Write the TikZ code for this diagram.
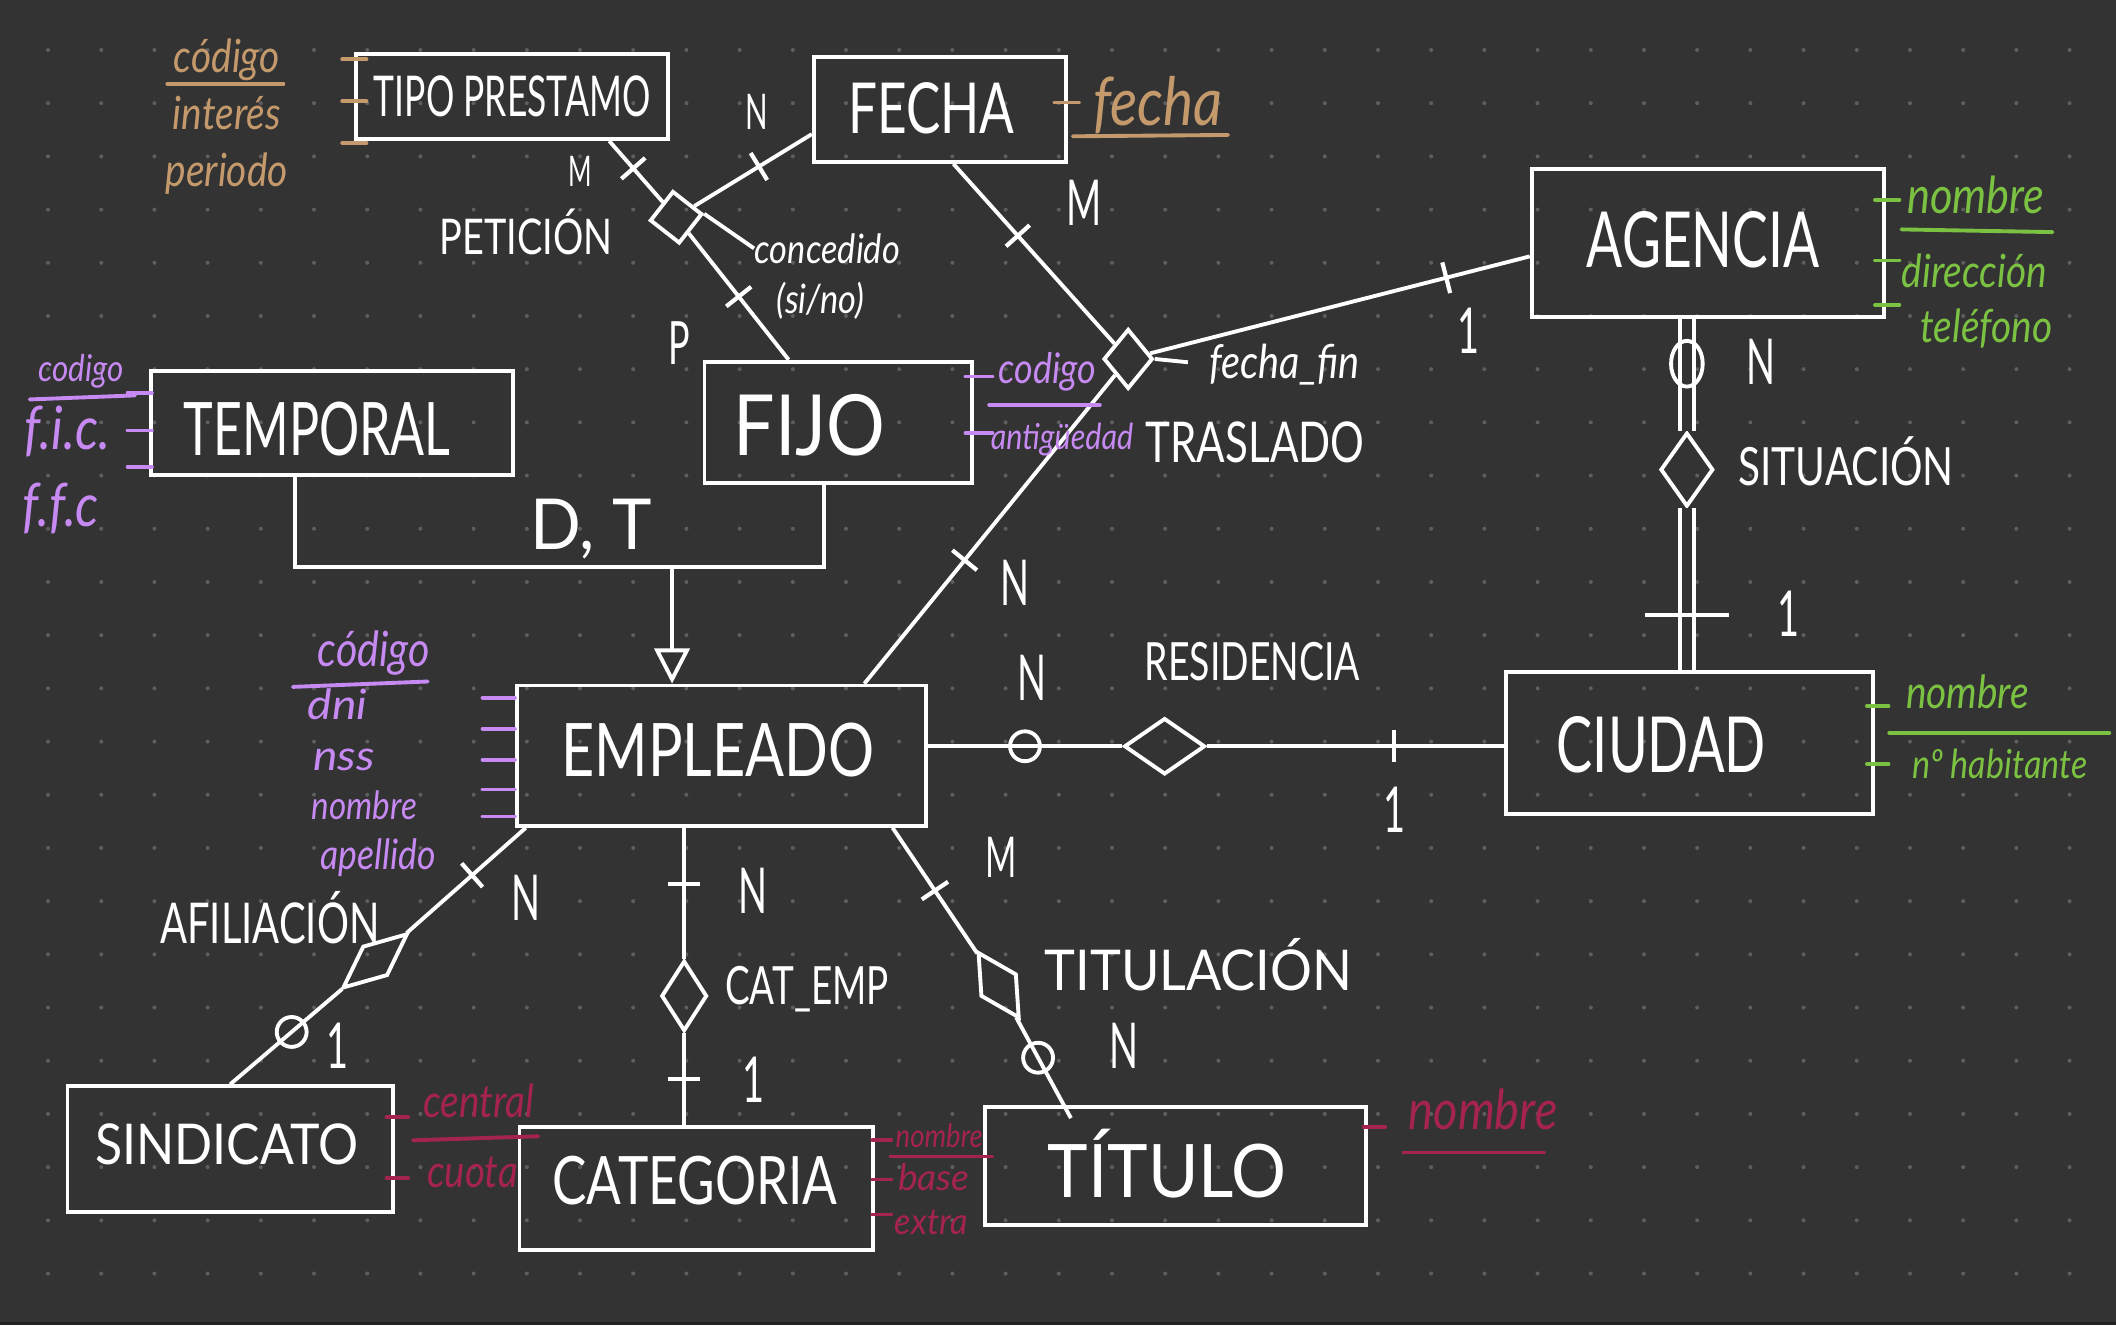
\documentclass[tikz,border=0pt]{standalone}
\usepackage{fontspec}
\newfontfamily\hand{Lato}
\usetikzlibrary{positioning,fit,calc,shapes.geometric,arrows.meta}
\definecolor{bgc}{HTML}{333333}
\definecolor{dotc}{HTML}{5E5E5E}
\definecolor{brn}{HTML}{C49A6C}
\definecolor{grn}{HTML}{7CC242}
\definecolor{pur}{HTML}{C78AF2}
\definecolor{crm}{HTML}{A52350}
\newcommand{\hsz}[1]{\fontsize{#1}{#1}\selectfont}
\tikzset{box/.style={draw=white, line width=1.1pt, inner sep=0pt}}
\tikzset{ent/.style={text=white, inner sep=0pt, font=\hand\hsz{#1}}, ent/.default=21}
\tikzset{lbl/.style={text=white, inner sep=0pt, font=\hand\hsz{#1}}, lbl/.default=15}
\tikzset{card/.style={text=white, inner sep=0pt, xscale=.6, font=\hand\hsz{#1}}, card/.default=18}
\tikzset{att/.style={inner sep=0pt, xscale=.85, font=\hand\itshape\hsz{#1}}, att/.default=13}
\tikzset{attb/.style={att=#1, anchor=base}, attb/.default=13}
\tikzset{rel/.style={diamond, draw=white, line width=1.1pt, inner sep=0pt, minimum width=16pt, minimum height=16pt}}
\tikzset{lnk/.style={draw=white, line width=1.1pt}}
\tikzset{tk/.style={sloped, fill=white, inner sep=0pt, minimum width=1.2pt, minimum height=9pt}}
\tikzset{ring/.style={circle, draw=white, line width=1.1pt, inner sep=0pt, minimum size=8.5pt}}
\tikzset{atk/.style={line width=1.1pt, line cap=round}}

\begin{document}
\begin{tikzpicture}[x=0.013495cm, y=-0.013495cm]
\useasboundingbox (0,0) rectangle (1568,982);
\fill[bgc] (0,0) rectangle (1568,982);
\fill[black!35!bgc] (0,979.6) rectangle (1568,982);
\foreach \i in {0,...,38}
  \foreach \j in {0,...,23}
    \fill[dotc] (35.6+39.42*\i, 37.05+39.42*\j) circle[radius=1.5];
%
% entidades
\node[box, fit={(264,40) (495,103)}] (tipo) {};
\node[box, fit={(603,42) (790,120)}] (fecha) {};
\node[box, fit={(1135,125) (1396,235)}] (agencia) {};
\node[box, fit={(112,275) (380,352)}] (temporal) {};
\node[box, fit={(522,268) (720,358)}] (fijo) {};
\node[box, fit={(383,508) (686,612)}] (emp) {};
\node[box, fit={(1116,498) (1388,603)}] (ciudad) {};
\node[box, fit={(50,805) (291,898)}] (sind) {};
\node[box, fit={(385,835) (647,926)}] (categ) {};
\node[box, fit={(730,820) (1012,908)}] (tit) {};
\node[ent=16, xscale=.63] (tipo-t) at (tipo) {TIPO PRESTAMO};
\node[ent=20, xscale=.73] (fecha-t) at (690,80) {FECHA};
\node[ent=22, xscale=.69] (agencia-t) at (1262,178) {AGENCIA};
\node[ent=21, xscale=.68] (temporal-t) at (235,318) {TEMPORAL};
\node[ent=24, xscale=.87] (fijo-t) at (600,315) {FIJO};
\node[ent=21, xscale=.78] (emp-t) at (532,556) {EMPLEADO};
\node[ent=22, xscale=.70] (ciudad-t) at (1231,552) {CIUDAD};
\node[ent=16, xscale=.89] (sind-t) at (168,848) {SINDICATO};
\node[ent=19, xscale=.77] (categ-t) at (515,875) {CATEGORIA};
\node[ent=21, xscale=.93] (tit-t) at (865,862) {TÍTULO};
%
% relaciones
\node[rel, rotate=7, minimum width=15pt, minimum height=15pt] (pet) at (501,161) {};
\node[rel, minimum width=14pt, minimum height=17pt] (tras) at (836,266) {};
\node[rel, minimum width=15pt, minimum height=21pt] (sit) at (1250,348) {};
\node[rel, minimum width=23pt, minimum height=16pt] (resid) at (863,553) {};
\node[rel, rotate=40, minimum width=24pt, minimum height=11pt] (afil) at (278,712) {};
\node[rel, minimum width=13pt, minimum height=20pt] (catemp) at (507,738) {};
\node[rel, rotate=-58, minimum width=22pt, minimum height=12pt] (titul) at (740,730) {};
\node[lbl=14, xscale=.77] (pet-t) at (390,172) {PETICIÓN};
\node[lbl=16, xscale=.75] (tras-t) at (930,328) {TRASLADO};
\node[lbl=15, xscale=.77] (sit-t) at (1368,342) {SITUACIÓN};
\node[lbl=15, xscale=.71] (resid-t) at (928,490) {RESIDENCIA};
\node[lbl=16, xscale=.71] (afil-t) at (200,680) {AFILIACIÓN};
\node[lbl=15, xscale=.70] (catemp-t) at (598,733) {CAT\_EMP};
\node[lbl=16, xscale=.93] (titul-t) at (888,715) {TITULACIÓN};
\node[attb=11.5, white] (conc) at (613,195) {concedido};
\node[attb=11.5, white] (sino) at (608,232) {(si/no)};
\node[att=13.3, white] (ffin) at (952,270) {fecha\_fin};
%
% conexiones
\draw[lnk] ($(tipo.south east)+(-45,0)$) -- node[tk, pos=.45] (k1) {} (pet);
\draw[lnk] (pet) -- node[tk, pos=.55] (k2) {} ($(fecha.south west)+(0,-22)$);
\draw[lnk] (pet) -- node[tk, pos=.5] (k3) {} (fijo);
\draw[lnk] (pet.east) -- (conc.west);
\draw[lnk] ($(fecha.south)+(10,0)$) -- node[tk, pos=.4] (k4) {} (tras);
\draw[lnk] (tras) -- node[tk, pos=.78] (k5) {} ($(agencia.west)+(0,10)$);
\draw[lnk] (tras) -- node[tk, pos=.6] (k6) {} ($(emp.north)+(106,0)$);
\draw[lnk, shorten >=6pt] (tras.east) -- (ffin.west);
\draw[lnk, double=bgc, double distance=3pt] (agencia.south -| sit) -- (sit);
\path (agencia.south -| sit) -- node[ring, ellipse, minimum width=9pt, minimum height=13pt, pos=.4] (k7) {} (sit);
\draw[lnk, double=bgc, double distance=3pt] (sit) -- (sit |- ciudad.north);
\path (sit) -- node[tk, pos=.66, minimum height=24pt] (k8) {} (sit |- ciudad.north);
\draw[lnk] (emp.east |- resid) -- node[ring, pos=.5] (k9) {} (resid);
\draw[lnk] (resid) -- node[tk, pos=.63] (k10) {} (resid -| ciudad.west);
\draw[lnk] ($(emp.south west)+(8,0)$) -- node[tk, pos=.45] (k11) {} (afil);
\draw[lnk] (afil) -- node[ring, pos=.45] (k12) {} (sind.north);
\draw[lnk] (emp.south -| catemp) -- node[tk, pos=.43] (k13) {} (catemp);
\draw[lnk] (catemp) -- node[tk, pos=.5] (k14) {} (catemp |- categ.north);
\draw[lnk] ($(emp.south east)+(-26,0)$) -- node[tk, pos=.5] (k15) {} (titul);
\draw[lnk] (titul) -- node[ring, pos=.4] (k16) {} ($(tit.north west)+(65,10)$);
%
% generalizacion
\coordinate (isa) at (498,420);
\draw[lnk] ($(temporal.south west)+(108,0)$) |- (isa) -| ($(fijo.south west)+(90,0)$);
\draw[lnk, -{Triangle[open, length=10pt, width=10pt]}] (isa) -- (isa |- emp.north);
\node[lbl=20, xscale=.95] (dt) at (438,392) {D, T};
%
% cardinalidades
\node[card=12] (c1) at (430,127) {M};
\node[card=14] (c2) at (561,83) {N};
\node[card=17] (c3) at (503,254) {P};
\node[card=18] (c4) at (803,150) {M};
\node[card=18] (c5) at (1088,245) {1};
\node[card=18] (c6) at (1305,268) {N};
\node[card=18] (c7) at (1325,455) {1};
\node[card=18] (c8) at (752,432) {N};
\node[card=18] (c9) at (765,502) {N};
\node[card=18] (c10) at (1033,600) {1};
\node[card=18] (c11) at (390,665) {N};
\node[card=18] (c12) at (250,775) {1};
\node[card=18] (c13) at (558,660) {N};
\node[card=18] (c14) at (558,800) {1};
\node[card=16] (c15) at (742,635) {M};
\node[card=18] (c16) at (833,775) {N};
%
% atributos
\node[attb=13, brn] (a-cod1) at (168,54) {código};
\node[attb=13, brn] (a-int) at (168,96) {interés};
\node[attb=13, brn] (a-per) at (168,138) {periodo};
\node[att=19, brn] (a-fec) at (858,78) {fecha};
\draw[brn, atk] (124,62) -- (210,62);
\draw[brn, atk] (795,101) -- (910,100);
\foreach \ty in {44,75,106} \draw[brn, atk] (tipo.west |- 0,\ty) ++(-9,0) -- ++(18,0);
\draw[brn, atk] (fecha.east |- 0,76) ++(-10,0) -- ++(18,0);
%
\node[attb=14.5, grn] (a-nom1) at (1464,158) {nombre};
\node[attb=13, grn] (a-dir) at (1463,213) {dirección};
\node[attb=13, grn] (a-tel) at (1472,254) {teléfono};
\node[attb=13, grn] (a-nom2) at (1458,525) {nombre};
\node[attb=11.4, grn] (a-hab) at (1482,577) {nº habitante};
\draw[grn, atk] (1409,170) -- (1521,172);
\draw[grn, atk] (1400,543) -- (1563,543);
\foreach \ty in {148,193,226} \draw[grn, atk] (agencia.east |- 0,\ty) ++(-8,0) -- ++(18,0);
\foreach \ty in {523,566} \draw[grn, atk] (ciudad.east |- 0,\ty) ++(-6,0) -- ++(16,0);
%
\node[attb=10.5, pur] (a-cod2) at (60,283) {codigo};
\node[attb=17, pur] (a-fic) at (50,333) {f.i.c.};
\node[attb=17, pur] (a-ffc) at (45,390) {f.f.c};
\node[attb=12, pur] (a-cod3) at (776,284) {codigo};
\node[attb=10.2, pur] (a-ant) at (787,333) {antigüedad};
\node[attb=13.8, pur] (a-cod4) at (277,494) {código};
\node[attb=11.9, pur, xscale=1.3] (a-dni) at (250,533) {dni};
\node[attb=11.9, pur, xscale=1.3] (a-nss) at (255,571) {nss};
\node[attb=11.1, pur] (a-nom3) at (270,607) {nombre};
\node[attb=11.9, pur] (a-ape) at (280,644) {apellido};
\draw[pur, atk] (22,296) -- (100,293);
\draw[pur, atk] (733,300) -- (815,300);
\draw[pur, atk] (217,509) -- (317,505);
\foreach \ty in {291,319,346} \draw[pur, atk] (temporal.west |- 0,\ty) ++(-16,0) -- ++(18,0);
\foreach \ty in {279,321} \draw[pur, atk] (fijo.east |- 0,\ty) ++(-6,0) -- ++(20,0);
\foreach \ty in {517,540,563,585,605} \draw[pur, atk] (emp.west |- 0,\ty) ++(-24,0) -- ++(24,0);
%
\node[attb=13, crm] (a-cen) at (355,828) {central};
\node[attb=12.9, crm] (a-cuo) at (350,880) {cuota};
\node[attb=9.2, crm] (a-nom4) at (696,850) {nombre};
\node[attb=10.4, crm, xscale=1.2] (a-bas) at (692,882) {base};
\node[attb=10.4, crm, xscale=1.1] (a-ext) at (690,915) {extra};
\node[att=15.7, crm] (a-nom5) at (1099,822) {nombre};
\draw[crm, atk] (306,845) -- (399,842);
\draw[crm, atk] (660,857) -- (735,857);
\draw[crm, atk] (1040,854) -- (1144,854);
\foreach \ty in {828,873} \draw[crm, atk] (sind.east |- 0,\ty) ++(-6,0) -- ++(16,0);
\foreach \ty in {845,874,900} \draw[crm, atk] (categ.east |- 0,\ty) ++(-2,0) -- ++(14,0);
\draw[crm, atk] (tit.east |- 0,835) ++(-3,0) -- ++(16,0);
\end{tikzpicture}
\end{document}
